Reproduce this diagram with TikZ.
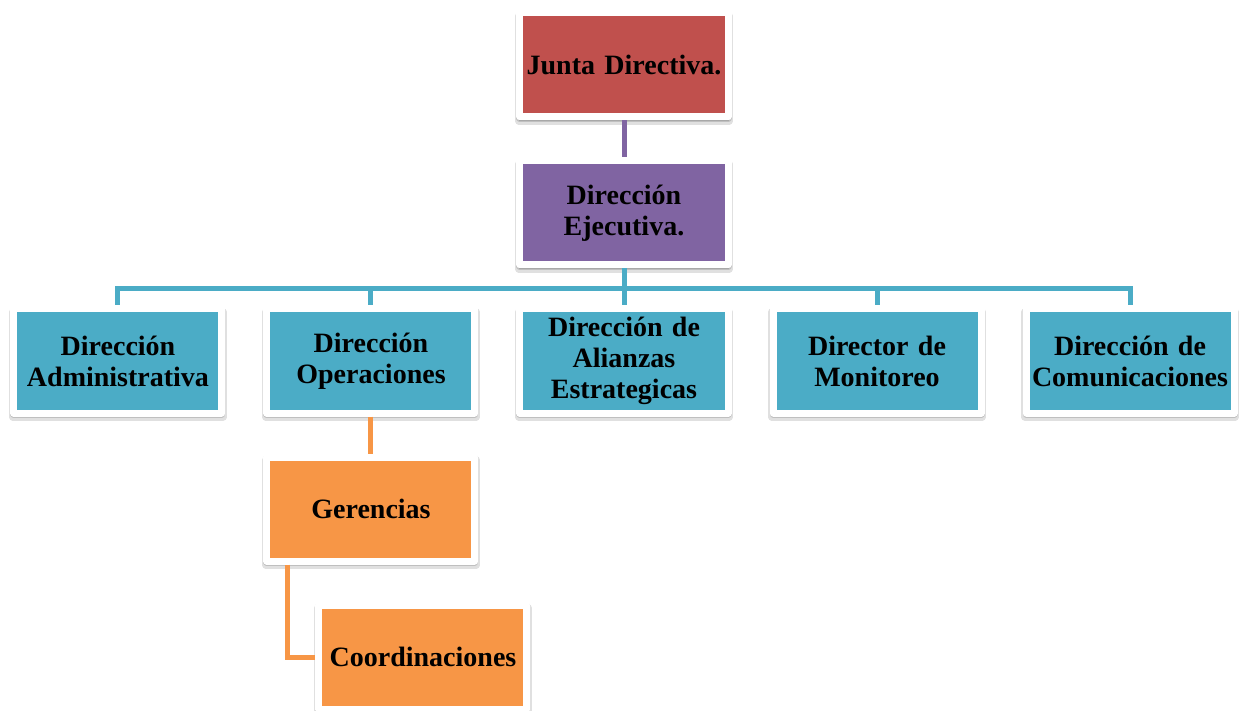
\documentclass[tikz,border=0pt]{standalone}
\usepackage{fontspec}
\setmainfont{Liberation Serif}
\usepackage{tikz}
\usetikzlibrary{positioning,shadows}
\definecolor{juntared}{HTML}{C0504D}
\definecolor{ejecpurple}{HTML}{8064A2}
\definecolor{direcblue}{HTML}{4BACC6}
\definecolor{gerorange}{HTML}{F79646}
\tikzset{
  unit/.style={rectangle,fill=#1,draw=white,line width=7pt,line join=round,
    minimum width=208pt,minimum height=104pt,text width=204pt,
    inner sep=0pt,align=center,font=\fontsize{28}{31}\selectfont\bfseries,
    drop shadow={shadow xshift=0pt,shadow yshift=-3.5pt,shadow scale=1.01,
      opacity=0.12,fill=black,draw=black},
    drop shadow={shadow xshift=0pt,shadow yshift=-1.5pt,
      opacity=0.15,fill=black,draw=black}},
  link/.style={draw=#1,line width=5pt}
}
\begin{document}
\begin{tikzpicture}[node distance=148pt and 253pt,on grid]
              \useasboundingbox (-624pt,65pt) rectangle (615pt,-646pt);
              \node[unit=juntared](junta){Junta Directiva.};
              \node[unit=ejecpurple](ejecutiva)[below=of junta]{Dirección\\Ejecutiva.};
              \node[unit=direcblue](alianzas)[below=of ejecutiva]{Dirección de\\Alianzas\\Estrategicas};
              \node[unit=direcblue](operaciones)[left=of alianzas]{Dirección\\Operaciones};
              \node[unit=direcblue](admin)[left=of operaciones]{Dirección\\Administrativa};
              \node[unit=direcblue](monitoreo)[right=of alianzas]{Director de\\Monitoreo};
              \node[unit=direcblue](comunic)[right=of monitoreo]{Dirección de\\Comunicaciones};
              \node[unit=gerorange](gerencias)[below=of operaciones]{Gerencias};
              \node[unit=gerorange](coordinaciones)[below right=148pt and 52pt of gerencias]{Coordinaciones};
              % connectors
              \draw[link=ejecpurple] (junta.south) -- (ejecutiva.north);
              \foreach \d in {admin,operaciones,alianzas,monitoreo,comunic}
                \draw[link=direcblue] (ejecutiva.south) -- ++(0,-20pt) -| (\d.north);
              \draw[link=gerorange] (operaciones.south) -- (gerencias.north);
              \draw[link=gerorange] ([xshift=24pt]gerencias.south west) |- (coordinaciones.west);
          \end{tikzpicture}
\end{document}
